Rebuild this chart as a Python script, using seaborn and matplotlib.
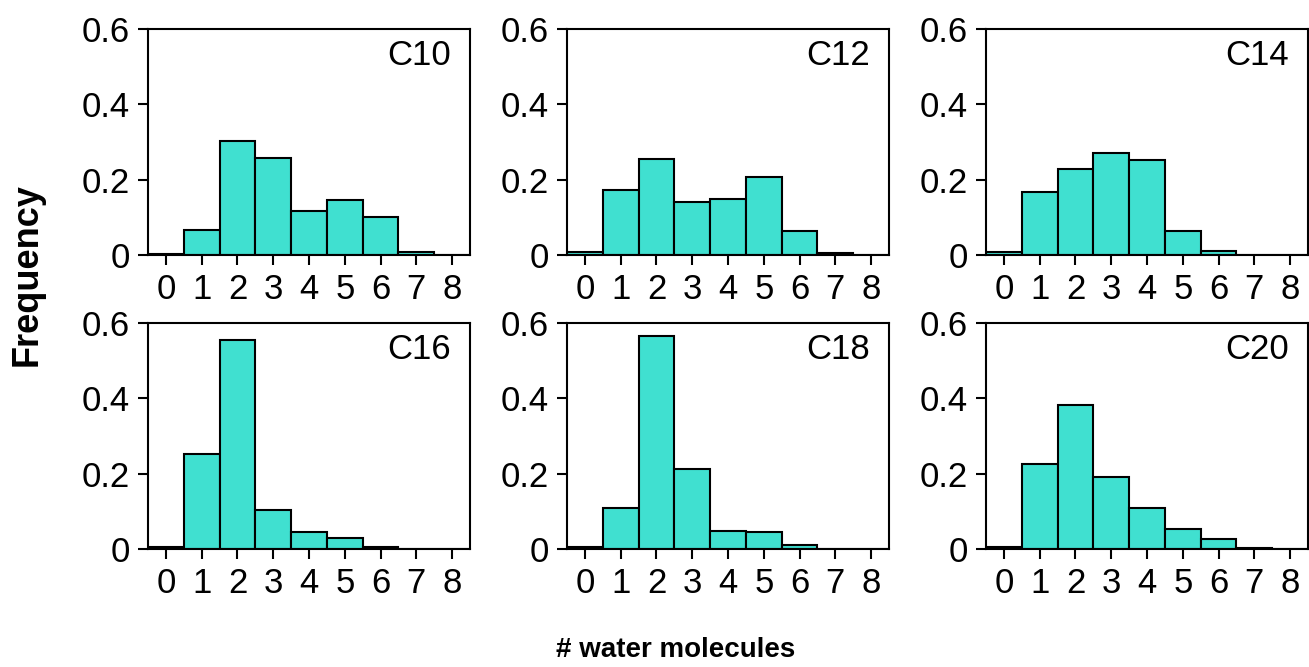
import numpy as np
import pandas as pd
import matplotlib
matplotlib.use("Agg")
import matplotlib.pyplot as plt
import seaborn as sns

# === 1. Daten ===
n_water = [0, 1, 2, 3, 4, 5, 6, 7, 8]
panels = ["C10", "C12", "C14", "C16", "C18", "C20"]

freq_c10 = [0.002, 0.066, 0.303, 0.258, 0.117, 0.146, 0.101, 0.008, 0.0]
freq_c12 = [0.007, 0.173, 0.254, 0.140, 0.148, 0.208, 0.065, 0.004, 0.0]
freq_c14 = [0.009, 0.166, 0.229, 0.270, 0.252, 0.065, 0.011, 0.001, 0.0005]
freq_c16 = [0.005, 0.252, 0.556, 0.103, 0.046, 0.028, 0.004, 0.0005, 0.0]
freq_c18 = [0.004, 0.110, 0.566, 0.212, 0.048, 0.044, 0.010, 0.0005, 0.0]
freq_c20 = [0.005, 0.226, 0.381, 0.190, 0.109, 0.053, 0.026, 0.003, 0.0]

alle_freq = [freq_c10, freq_c12, freq_c14, freq_c16, freq_c18, freq_c20]

yticks = [0, 0.2, 0.4, 0.6]
ytick_labels = ["0", "0.2", "0.4", "0.6"]

# === 2. Long-Format ===
df = pd.DataFrame({
    "Panel": np.repeat(panels, len(n_water)),
    "Wasser": n_water * len(panels),
    "Frequenz": np.concatenate(alle_freq),
})

# === 3. Plot ===
sns.set_style("ticks")
plt.rcParams["font.family"] = ["Liberation Sans", "DejaVu Sans"]
plt.rcParams["text.color"] = "black"

fig = plt.figure(figsize=(13.09, 6.67), dpi=100)

W, H = 1309, 667
lefts = [148, 567, 986]
tops = [29, 323]
ax_w, ax_h = 322, 226

for i, name in enumerate(panels):
    r, c = divmod(i, 3)
    ax = fig.add_axes([lefts[c] / W, 1 - (tops[r] + ax_h) / H, ax_w / W, ax_h / H])
    sub = df[df["Panel"] == name]
    sns.barplot(data=sub, x="Wasser", y="Frequenz", color="#40E0D0",
                saturation=1, width=1, edgecolor="black", linewidth=1.5, ax=ax)
    ax.set_xlim(-0.5, 8.5)
    ax.set_ylim(0, 0.6)
    ax.set_yticks(yticks)
    ax.set_yticklabels(ytick_labels)
    ax.set_xticks(range(len(n_water)))
    ax.set_xticklabels([str(n) for n in n_water])
    ax.set_xlabel("")
    ax.set_ylabel("")
    for sp in ax.spines.values():
        sp.set_linewidth(1.5)
        sp.set_color("black")
    ax.tick_params(labelsize=25, length=7, width=1.5, pad=6, colors="black")
    ax.text(0.94, 0.955, name, transform=ax.transAxes, ha="right", va="top",
            fontsize=25)

fig.text(0.021, 1 - 275 / H, "Frequency", rotation=90, ha="center", va="center",
         fontsize=26, fontweight="bold")
fig.text(0.516, 1 - 650 / H, "# water molecules", ha="center", va="center",
         fontsize=20, fontweight="bold")

fig.savefig("out.png", dpi=100)
